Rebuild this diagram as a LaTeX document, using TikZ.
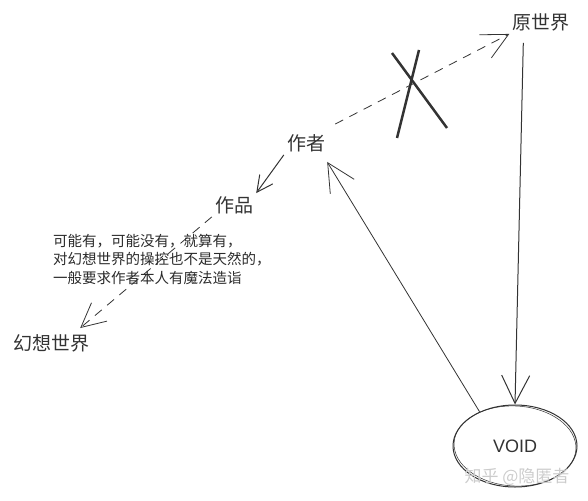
\documentclass[tikz,border=0pt]{standalone}
\usepackage{fontspec}
\setmainfont{Noto Sans CJK SC}
\newfontfamily\voidfont{Liberation Sans}
\usepackage{xcolor}
\usetikzlibrary{arrows.meta,shapes.geometric}
\definecolor{ink}{HTML}{333333}
\definecolor{notegray}{HTML}{2A2A2A}

\begin{document}
\begin{tikzpicture}[x=1pt, y=-1pt,
  lbl/.style={text=ink, font=\fontsize{19}{23}\selectfont, inner sep=3pt},
  link/.style={draw=ink, line width=0.8pt},
  dashlink/.style={link, dash pattern=on 9pt off 7pt},
  hand/.style={-{Straight Barb[length=#1, width=#1]}}]
  \useasboundingbox (0,0) rectangle (588,500);
  \node[lbl] (orig) at (541,22) {原世界};
  \node[lbl] (author) at (306,143) {作者};
  \node[lbl] (work) at (234,205) {作品};
  \node[lbl] (fant) at (51,343) {幻想世界};
  \node[text=notegray, font=\fontsize{14.5}{18.5}\selectfont, align=left, inner sep=0pt, anchor=north west] (note) at (53,234) {可能有，可能没有，就算有，\\对幻想世界的操控也不是天然的，\\一般要求作者本人有魔法造诣};
  \node[draw=ink, ellipse, line width=1pt, minimum width=124pt, minimum height=82pt, inner sep=0pt, text=ink, font=\voidfont\fontsize{18}{20}\selectfont] (voidn) at (515,446) {VOID};
  \draw[ink, line width=0.5pt, rotate around={-3:(voidn.center)}] (voidn.center) ellipse [x radius=61pt, y radius=40pt];
  \node[text=gray!40, font=\fontsize{17}{20}\selectfont] (mark) at (517,477) {知乎 @隐匿者};
  % the crossed-out path
  \draw[dashlink, hand=26pt] ([shift={(7,-7)}]author.north east) -- (orig.south west);
  \draw[ink, line width=2.5pt] (392,53) -- (447,128);
  \draw[ink, line width=2.5pt] (419,50) -- (397,138);
  \draw[link, line width=1pt, hand=28pt] ([shift={(14,9)}]orig.south west) -- (voidn.north);
  \draw[link, hand=28pt] (voidn.136) -- ([shift={(-1,7)}]author.south east);
  \draw[link, line width=1pt, hand=16pt] (author.south west) -- (work.north east);
  \draw[dashlink, hand=24pt] (work.south west) -- ([shift={(-12,-3)}]fant.north east);
\end{tikzpicture}
\end{document}
